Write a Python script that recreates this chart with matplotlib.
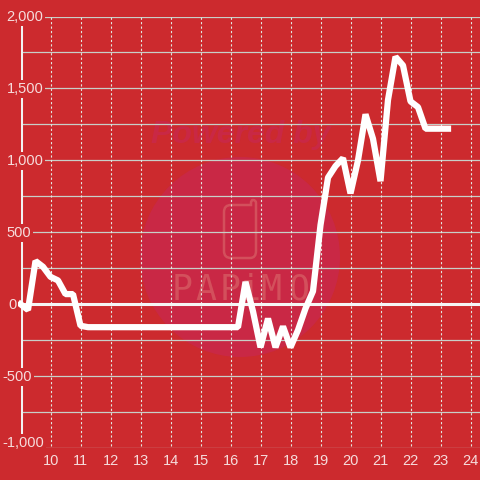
import matplotlib
matplotlib.use("Agg")
import matplotlib.pyplot as plt
from matplotlib.patches import Circle, PathPatch
from matplotlib.path import Path

hours = [9.0, 9.25, 9.5, 9.75, 10.0, 10.25, 10.5, 10.75, 11.0, 11.25, 11.5, 11.75, 12.0, 12.25, 12.5, 12.75,
         13.0, 13.25, 13.5, 13.75, 14.0, 14.25, 14.5, 14.75, 15.0, 15.25, 15.5, 15.75, 16.0, 16.25, 16.5, 16.75,
         17.0, 17.25, 17.5, 17.75, 18.0, 18.25, 18.5, 18.75, 19.0, 19.25, 19.5, 19.75, 20.0, 20.25, 20.5, 20.75,
         21.0, 21.25, 21.5, 21.75, 22.0, 22.25, 22.5, 22.75, 23.0, 23.25]
values = [0, -40, 300, 260, 190, 165, 70, 70, -150, -160, -160, -160, -160, -160, -160, -160,
          -160, -160, -160, -160, -160, -160, -160, -160, -160, -160, -160, -160, -160, -160, 155, -50,
          -300, -100, -300, -155, -300, -180, -30, 90, 550, 880, 960, 1015, 770, 1000, 1320, 1150,
          855, 1420, 1720, 1660, 1410, 1370, 1220, 1220, 1220, 1220]
x_ticks = [10, 11, 12, 13, 14, 15, 16, 17, 18, 19, 20, 21, 22, 23, 24]
y_major = [-1000, -500, 0, 500, 1000, 1500, 2000]
y_minor = [-750, -250, 250, 750, 1250, 1750]
wm_letters = ["P", "A", "P", "i", "M", "O"]

RED = "#cc2a2e"
WM = "#c92845"
WM2 = "#d3505c"
LABEL = "#f6dcdc"
W = 480
x_left, x_right = 20.5, 480.0
y_top, y_bottom = 16.5, 448.0
X0 = 9.0
X1 = X0 + (x_right - x_left) / 30

plt.rcParams["font.family"] = "Liberation Sans"
fig = plt.figure(figsize=(4.8, 4.8), dpi=100, facecolor=RED)
ax = fig.add_axes([x_left / W, 1 - y_bottom / W, (x_right - x_left) / W, (y_bottom - y_top) / W])
ax.set_zorder(2)
ax.patch.set_alpha(0)
ax.set_xlim(X0, X1)
ax.set_ylim(-1000, 2000)
for s in ax.spines.values():
    s.set_visible(False)

ft = fig.transFigure
def fx(p): return p / W
def fy(p): return 1 - p / W

# watermark (pixel placement)
fig.add_artist(Circle((fx(240), fy(257)), 100 / W, transform=ft, fc=WM, ec="none", zorder=0.5))
c = Path.CURVE3
L = Path.LINETO
logo = [((231, 205), Path.MOVETO), ((224, 205), c), ((224, 212), c), ((224, 251), L), ((224, 258), c), ((231, 258), c),
        ((250, 258), L), ((256, 258), c), ((256, 251), c), ((256, 203), L), ((256, 200), c), ((253, 200), c),
        ((251, 200), c), ((251, 203), c), ((251, 205), L), ((231, 205), L)]
verts = [(fx(a), fy(b)) for (a, b), _ in logo]
fig.add_artist(PathPatch(Path(verts, [k for _, k in logo]), transform=ft, fc="none", ec=WM2, lw=1.8, zorder=0.6))
fig.text(fx(241), fy(135), "Powered by", family="Liberation Sans", style="italic", weight="bold",
         fontsize=23, color=WM, ha="center", va="center", zorder=0.6)
for ch, px in zip(wm_letters, [182, 206, 230, 250, 271, 299]):
    fig.text(fx(px), fy(290), ch, family="DejaVu Sans Mono", fontsize=25, color=WM2,
             ha="center", va="center", zorder=0.6)

ax.set_yticks(y_major)
ax.set_yticks(y_minor, minor=True)
ax.set_xticks(x_ticks)
ax.tick_params(which="both", length=0, labelbottom=False, labelleft=False)
ax.grid(True, which="both", axis="y", color="#c8cfc8", lw=0.9, zorder=1)
ax.set_axisbelow(True)
for t in x_ticks:
    ax.plot([t + 0.02] * 2, [-985, 2000], color="#e2e8e2", lw=0.8, ls=(0, (2, 2)), zorder=1)

ax.axvline(X0, color="#f2f2f2", lw=2.2, zorder=2)
ax.axhline(0, color="#f5f5f5", lw=2.2, zorder=2)
ax.plot(hours, values, color="white", lw=4.5, solid_joinstyle="bevel", solid_capstyle="projecting",
        zorder=5, clip_on=False)

for v in y_major:
    left = 2.5 if v < 0 else (8 if v == 0 else 6.5)
    ypx = 443 if v == -1000 else 305 - v * 72 / 500
    fig.text(fx(left), fy(ypx), f"{v:,}", fontsize=10.5, color=LABEL, ha="left", va="center", zorder=4,
             bbox=dict(fc=RED, ec="none", pad=1.4))
for t in x_ticks:
    fig.text(fx(50.8 + (t - 10) * 30), fy(461), str(t), fontsize=10.5, color=LABEL, ha="center", va="center", zorder=3)

fig.savefig("out.png", dpi=100, facecolor=RED)
